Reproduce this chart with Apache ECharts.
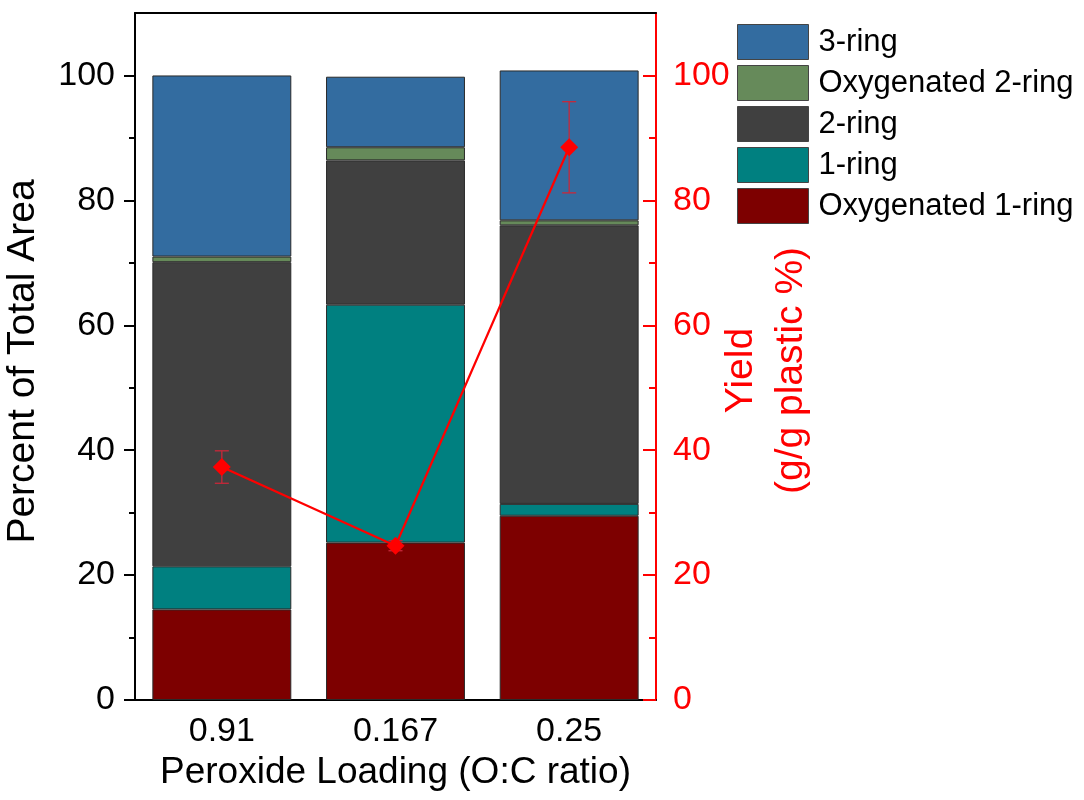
<!DOCTYPE html>
<html>
<head>
<meta charset="utf-8">
<script src="https://cdn.jsdelivr.net/npm/echarts@6/dist/echarts.min.js"></script>
<style>html,body{margin:0;padding:0;background:#fff}#c{width:1084px;height:800px}</style>
</head>
<body>
<div id="c"></div>
<script>
const categories = ['0.91', '0.167', '0.25'];
const oxy1Ring = [14.5, 25.2, 29.5];
const ring1 = [6.9, 38.1, 1.9];
const ring2 = [48.7, 23.1, 44.6];
const oxy2Ring = [0.9, 2.1, 0.8];
const ring3 = [29.0, 11.3, 24.0];
const yieldVals = [37.3, 24.7, 88.5];
const yieldErr = [2.6, 0.8, 7.3];
const majorTicks = [0, 20, 40, 60, 80, 100];
const minorTicks = [10, 30, 50, 70, 90];

const FONT = '"Liberation Sans", Arial, sans-serif';
const chart = echarts.init(document.getElementById('c'));

function barSeries(name, data, color) {
  return {
    name: name, type: 'bar', stack: 'total', data: data,
    xAxisIndex: 0, yAxisIndex: 0, barCategoryGap: '20%',
    itemStyle: { color: color, borderColor: '#2a2a2a', borderWidth: 1 },
    emphasis: { disabled: true }
  };
}

const yBase = { type: 'value', min: 0, max: 110, splitLine: { show: false } };

chart.setOption({
  animation: false,
  textStyle: { fontFamily: FONT },
  grid: { left: 135, right: 428, top: 13, bottom: 100, containLabel: false },
  legend: {
    orient: 'vertical', left: 737, top: 24, padding: 0,
    itemWidth: 71, itemHeight: 35, itemGap: 5, icon: 'rect',
    itemStyle: { borderColor: '#444', borderWidth: 1 },
    data: ['3-ring', 'Oxygenated 2-ring', '2-ring', '1-ring', 'Oxygenated 1-ring'],
    textStyle: { fontSize: 31, lineHeight: 35, color: '#000', fontFamily: FONT, padding: [0, 0, 0, 5] },
    selectedMode: false
  },
  xAxis: [
    {
      type: 'category', data: categories, position: 'bottom',
      axisLine: { onZero: false, lineStyle: { color: '#000', width: 2 } },
      axisTick: { alignWithLabel: true, length: 10, lineStyle: { color: '#000', width: 2 } },
      axisLabel: { fontSize: 34, color: '#000', margin: 15, fontFamily: FONT },
      name: 'Peroxide Loading (O:C ratio)', nameLocation: 'middle', nameGap: 54,
      nameTextStyle: { fontSize: 37, color: '#000', fontFamily: FONT, verticalAlign: 'top' }
    },
    {
      type: 'category', data: categories, position: 'top',
      axisLine: { onZero: false, lineStyle: { color: '#000', width: 2 } },
      axisTick: { show: false }, axisLabel: { show: false }
    },
    {
      type: 'category', data: categories, position: 'bottom',
      axisLine: { show: false, onZero: false },
      axisTick: { length: 5, lineStyle: { color: '#000', width: 2 } },
      axisLabel: { show: false }
    }
  ],
  yAxis: [
    Object.assign({}, yBase, {
      position: 'left',
      axisLine: { show: true, lineStyle: { color: '#000', width: 2 } },
      axisTick: { show: true, length: 11, customValues: majorTicks, lineStyle: { color: '#000', width: 2 } },
      axisLabel: { customValues: majorTicks, fontSize: 34, color: '#000', margin: 20, fontFamily: FONT },
      name: 'Percent of Total Area', nameLocation: 'middle', nameGap: 92, nameRotate: 90,
      nameTextStyle: { fontSize: 39, color: '#000', fontFamily: FONT, padding: [0, 10, 0, 0] }
    }),
    Object.assign({}, yBase, {
      position: 'right',
      axisLine: { show: true, lineStyle: { color: '#ff0000', width: 2 } },
      axisTick: { show: true, inside: true, length: 13, customValues: majorTicks, lineStyle: { color: '#ff0000', width: 2 } },
      axisLabel: { customValues: majorTicks, fontSize: 34, color: '#ff0000', margin: 17, fontFamily: FONT },
      name: 'Yield\n(g/g plastic %)', nameLocation: 'middle', nameGap: 60, nameRotate: 90,
      nameMoveOverlap: false,
      nameTextStyle: { fontSize: 39, color: '#ff0000', lineHeight: 50, fontFamily: FONT, padding: [0, 28, 0, 0] }
    }),
    Object.assign({}, yBase, {
      position: 'left',
      axisLine: { show: false },
      axisTick: { show: true, length: 6, customValues: minorTicks, lineStyle: { color: '#000', width: 2 } },
      axisLabel: { show: false }
    }),
    Object.assign({}, yBase, {
      position: 'right',
      axisLine: { show: false },
      axisTick: { show: true, inside: true, length: 7, customValues: minorTicks, lineStyle: { color: '#ff0000', width: 2 } },
      axisLabel: { show: false }
    })
  ],
  series: [
    barSeries('Oxygenated 1-ring', oxy1Ring, '#7d0000'),
    barSeries('1-ring', ring1, '#008080'),
    barSeries('2-ring', ring2, '#404040'),
    barSeries('Oxygenated 2-ring', oxy2Ring, '#668a5a'),
    barSeries('3-ring', ring3, '#336ca0'),
    {
      name: 'err', type: 'custom', xAxisIndex: 0, yAxisIndex: 1, z: 5,
      data: categories.map((c, i) => [i, yieldVals[i] - yieldErr[i], yieldVals[i] + yieldErr[i]]),
      renderItem: function (params, api) {
        const x = api.value(0);
        const lo = api.coord([x, api.value(1)]);
        const hi = api.coord([x, api.value(2)]);
        const w = 7;
        const st = { stroke: '#c8283a', lineWidth: 1.3 };
        return {
          type: 'group', children: [
            { type: 'line', shape: { x1: lo[0], y1: lo[1], x2: hi[0], y2: hi[1] }, style: st },
            { type: 'line', shape: { x1: lo[0] - w, y1: lo[1], x2: lo[0] + w, y2: lo[1] }, style: st },
            { type: 'line', shape: { x1: hi[0] - w, y1: hi[1], x2: hi[0] + w, y2: hi[1] }, style: st }
          ]
        };
      },
      silent: true
    },
    {
      name: 'Yield', type: 'line', xAxisIndex: 0, yAxisIndex: 1, data: yieldVals, z: 6,
      symbol: 'diamond', symbolSize: 18,
      lineStyle: { color: '#ff0000', width: 2.2 },
      itemStyle: { color: '#ff0000' },
      emphasis: { disabled: true }
    }
  ]
});
</script>
</body>
</html>
